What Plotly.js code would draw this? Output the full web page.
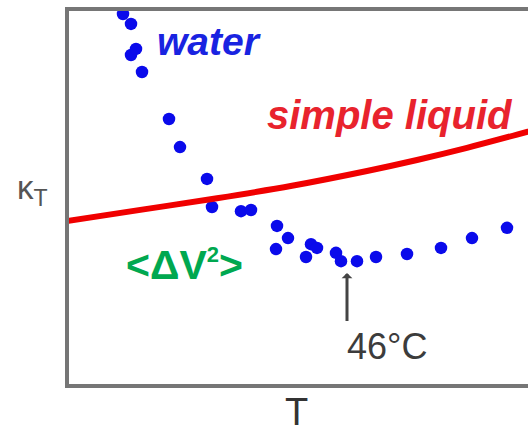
<!DOCTYPE html>
<html>
<head>
<meta charset="utf-8">
<script src="https://cdn.plot.ly/plotly-3.0.1.min.js"></script>
<style>
  html, body { margin: 0; padding: 0; background: #fff; overflow: hidden; width: 528px; height: 431px; }
  #chart { width: 600px; height: 431px; }
</style>
</head>
<body>
<div id="chart"></div>
<script>
// Isothermal compressibility vs temperature (arbitrary units)
const waterT     = [1.2, 2.8, 2.8, 3.8, 5.0, 10.4, 12.6, 18.0, 19.0, 24.8, 26.8, 32.0, 34.2, 31.8, 38.8, 37.8, 40.0, 43.8, 44.8, 48.0, 51.8, 58.0, 64.8, 71.0, 78.0];
const waterKappa = [98.4, 95.8, 87.6, 89.2, 83.1, 70.7, 63.3, 54.9, 47.5, 46.4, 46.7, 42.5, 39.3, 36.4, 37.7, 34.3, 36.7, 35.4, 33.2, 33.2, 34.3, 35.1, 36.7, 39.3, 42.0];

const liquidT     = [-10, 5, 20, 35, 50, 60, 70, 80, 90.4];
const liquidKappa = [43.8, 46.8, 49.8, 53.1, 57.0, 59.9, 63.1, 66.6, 70.4];

const minimumT = 46;
const minimumLabel = '46°C';

const traces = [
  {
    x: waterT, y: waterKappa,
    type: 'scatter', mode: 'markers',
    marker: { size: 12.5, color: 'rgb(10,10,235)' },
    cliponaxis: false,
    hoverinfo: 'skip'
  },
  {
    x: liquidT, y: liquidKappa,
    type: 'scatter', mode: 'lines',
    line: { color: 'rgb(240,0,0)', width: 6, shape: 'spline', smoothing: 1 },
    hoverinfo: 'skip'
  }
];

const axisLine = { showline: true, linecolor: '#767676', linewidth: 4, mirror: true,
                   showgrid: false, zeroline: false, showticklabels: false, ticks: '' };

const layout = {
  width: 600, height: 431,
  margin: { l: 69, r: 31, t: 11, b: 47 },
  paper_bgcolor: '#fff', plot_bgcolor: '#fff',
  showlegend: false,
  font: { family: 'Liberation Sans, Arial, sans-serif' },
  xaxis: Object.assign({ range: [-9.6, 90.4] }, axisLine),
  yaxis: Object.assign({ range: [0.8, 99.2] }, axisLine),
  annotations: [
    { x: 7.6, y: 91.1, xref: 'x', yref: 'y', xanchor: 'left', yanchor: 'middle', showarrow: false,
      text: '<b><i>water</i></b>', font: { size: 39, color: 'rgb(25,35,225)' } },
    { x: 29.6, y: 71.8, xref: 'x', yref: 'y', xanchor: 'left', yanchor: 'middle', showarrow: false,
      text: '<b><i>simple liquid</i></b>', font: { size: 40, color: 'rgb(232,35,45)' } },
    { x: 1.4, y: 32.2, xref: 'x', yref: 'y', xanchor: 'left', yanchor: 'middle', showarrow: false,
      text: '<b>&lt;ΔV<sup><span style="font-size:22px">2</span></sup>&gt;</b>',
      font: { size: 41, color: 'rgb(0,168,80)' } },
    { x: minimumT, y: 30.1, xref: 'x', yref: 'y', ax: 0, ay: 50, axref: 'pixel', ayref: 'pixel',
      showarrow: true, text: ' ', font: { size: 1 }, arrowhead: 1, arrowsize: 0.6, arrowwidth: 3,
      arrowcolor: '#444', standoff: 0, startstandoff: 0 },
    { x: 45.6, y: 10.8, xref: 'x', yref: 'y', xanchor: 'left', yanchor: 'middle', showarrow: false,
      text: minimumLabel, font: { size: 36, color: '#3c3c3c' } },
    { x: 0.454, y: -0.075, xref: 'paper', yref: 'paper', xanchor: 'center', yanchor: 'middle', showarrow: false,
      text: 'T', font: { size: 38, color: '#333' } },
    { x: -0.108, y: 0.52, xref: 'paper', yref: 'paper', xanchor: 'left', yanchor: 'middle', showarrow: false,
      text: 'κ<sub>T</sub>', font: { size: 33, color: '#555' } }
  ]
};

Plotly.newPlot('chart', traces, layout, { staticPlot: true, displayModeBar: false });
</script>
</body>
</html>
